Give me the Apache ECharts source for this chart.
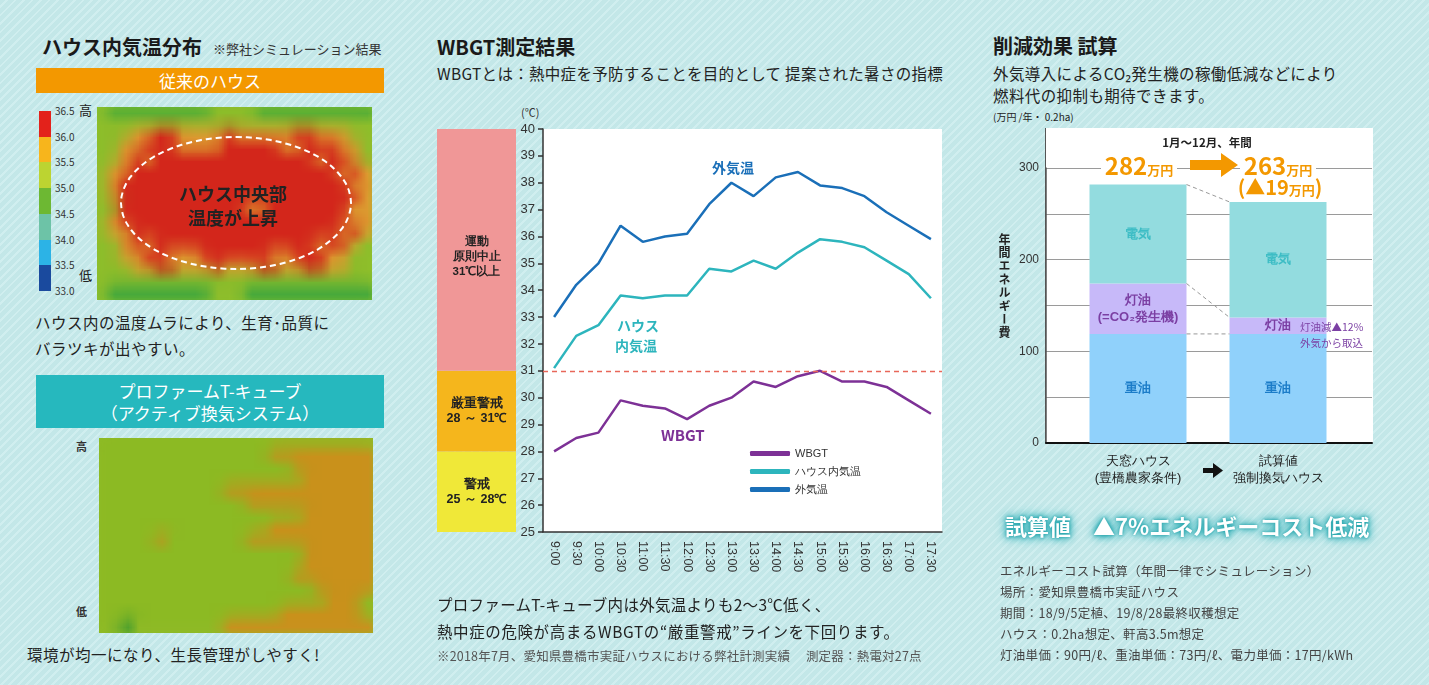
<!DOCTYPE html>
<html>
<head>
<meta charset="utf-8">
<script src="https://cdn.jsdelivr.net/npm/echarts@6/dist/echarts.min.js"></script>
<style>
html, body { margin: 0; padding: 0; }
body {
    width: 1429px; height: 685px; position: relative; overflow: hidden;
    font-family: "Noto Sans CJK JP", "Noto Sans", sans-serif; color: #222;
    background: repeating-linear-gradient(135deg, #c3e7e8 0px, #c3e7e8 4px, #d0eeef 4px, #d0eeef 6px);
}
.t { position: absolute; white-space: nowrap; line-height: 1; }
.b { font-weight: bold; }
.box { position: absolute; }
.heat { position: absolute; overflow: hidden; }
.heat .inner { position: absolute; width: 26px; height: 18px; transform-origin: 0 0; }
#main { position: absolute; left: 0; top: 0; width: 1429px; height: 685px; }
.glow { color: #fff; text-shadow: 0 0 3px #23a3ab, 0 0 6px #23a3ab, 0 0 10px #3cb6bd, 0 0 14px #6ccacf; }
.price { background: #fff; padding: 0 4px; color: #f39800; font-weight: bold; }
</style>
</head>
<body>

<!-- left panel -->
<div class="t b" style="left:42px;top:37px;font-size:20px;color:#1a1a1a;">ハウス内気温分布</div>
<div class="t" style="left:213px;top:42px;font-size:13px;color:#333;">※弊社シミュレーション結果</div>
<div class="box" style="left:36px;top:68px;width:348px;height:25px;background:#f39800;color:#fff;font-size:17px;line-height:25px;text-align:center;">従来のハウス</div>
<div id="scale"></div>
<div class="t" style="left:79px;top:103px;font-size:13px;">高</div>
<div class="t" style="left:79px;top:268px;font-size:13px;">低</div>
<div class="heat" style="left:97px;top:107px;width:275px;height:193px;"><div class="inner" id="heatA" style="background:#8fbf2c;"></div></div>
<div class="box" style="left:120px;top:136px;width:228px;height:130px;border:2px dashed #fff;border-radius:50%;"></div>
<div class="t b" style="left:133px;top:184px;width:200px;text-align:center;font-size:18px;color:#222;">ハウス中央部</div>
<div class="t b" style="left:133px;top:208px;width:200px;text-align:center;font-size:18px;color:#222;">温度が上昇</div>
<div class="t" style="left:35px;top:315px;font-size:15.5px;letter-spacing:0.5px;">ハウス内の温度ムラにより、生育･品質に</div>
<div class="t" style="left:35px;top:341px;font-size:15.5px;letter-spacing:0.5px;">バラツキが出やすい。</div>
<div class="box" style="left:36px;top:375px;width:348px;height:53px;background:#26b8be;color:#fff;font-size:17px;text-align:center;">
  <div style="position:absolute;left:0;right:0;top:6px;line-height:20px;">プロファームT-キューブ</div>
  <div style="position:absolute;left:0;right:0;top:28px;line-height:20px;">（アクティブ換気システム）</div>
</div>
<div class="t b" style="left:76px;top:441px;font-size:11px;color:#333;">高</div>
<div class="t b" style="left:76px;top:606px;font-size:11px;color:#333;">低</div>
<div class="heat" style="left:99px;top:438px;width:274px;height:195px;"><div class="inner" id="heatB" style="background:#8fbb27;"></div></div>
<div class="t" style="left:27px;top:647px;font-size:15.5px;letter-spacing:0.5px;">環境が均一になり、生長管理がしやすく!</div>

<!-- middle panel -->
<div class="t b" style="left:437px;top:37px;font-size:20px;color:#1a1a1a;">WBGT測定結果</div>
<div class="t" style="left:437px;top:66px;font-size:15.5px;letter-spacing:0.3px;">WBGTとは：熱中症を予防することを目的として 提案された暑さの指標</div>
<div class="t" style="left:521px;top:107px;font-size:11px;color:#333;">(℃)</div>

<!-- right panel -->
<div class="t b" style="left:993px;top:36px;font-size:20px;color:#1a1a1a;">削減効果 試算</div>
<div class="t" style="left:993px;top:66px;font-size:15.5px;letter-spacing:0.4px;">外気導入によるCO₂発生機の稼働低減などにより</div>
<div class="t" style="left:993px;top:88px;font-size:15.5px;letter-spacing:0.4px;">燃料代の抑制も期待できます。</div>
<div class="t" style="left:993px;top:112px;font-size:10px;">(万円 /年・ 0.2ha)</div>
<div class="box" style="left:1045px;top:128px;width:327px;height:315px;background:#fff;border-left:1.5px solid #555;"></div>

<div id="main"></div>

<!-- overlays -->
<div class="t b" style="left:712px;top:160px;font-size:14px;color:#1a6fb8;">外気温</div>
<div class="t b" style="left:617px;top:318px;font-size:14px;color:#2db5bd;">ハウス</div>
<div class="t b" style="left:615px;top:338px;font-size:14px;color:#2db5bd;">内気温</div>
<div class="t b" style="left:661px;top:427px;font-size:15px;color:#7d3196;">WBGT</div>
<div class="t" style="left:437px;top:597px;font-size:15.5px;letter-spacing:0.3px;">プロファームT-キューブ内は外気温よりも2～3℃低く、</div>
<div class="t" style="left:437px;top:624px;font-size:15.5px;letter-spacing:0.6px;">熱中症の危険が高まるWBGTの“厳重警戒”ラインを下回ります。</div>
<div class="t" style="left:437px;top:650px;font-size:12.5px;color:#555;letter-spacing:0.2px;">※2018年7月、愛知県豊橋市実証ハウスにおける弊社計測実績　 測定器：熱電対27点</div>

<div class="t b" style="left:1107px;top:137px;width:200px;text-align:center;font-size:11.5px;">1月～12月、年間</div>
<div class="t" id="totalA" style="left:1069px;top:153px;width:140px;text-align:center;"></div>
<div class="t" id="totalB" style="left:1208px;top:153px;width:140px;text-align:center;"></div>
<div class="t" id="diff" style="left:1210px;top:177px;width:140px;text-align:center;color:#f39800;font-weight:bold;"></div>
<div class="t b" style="left:997px;top:233px;font-size:12px;writing-mode:vertical-rl;letter-spacing:1.4px;line-height:14px;">年間エネルギー費</div>
<div class="t" style="left:1300px;top:322px;font-size:10.5px;color:#7b3fa3;">灯油減▲12%</div>
<div class="t" style="left:1300px;top:338px;font-size:10.5px;color:#7b3fa3;">外気から取込</div>

<div class="t b glow" style="left:1005px;top:514px;font-size:22px;">試算値　▲7%エネルギーコスト低減</div>
<div class="t" style="left:1000px;top:565px;font-size:12.5px;color:#444;letter-spacing:0.3px;">エネルギーコスト試算（年間一律でシミュレーション）</div>
<div class="t" style="left:1000px;top:586px;font-size:12.5px;color:#444;letter-spacing:0.3px;">場所：愛知県豊橋市実証ハウス</div>
<div class="t" style="left:1000px;top:607px;font-size:12.5px;color:#444;letter-spacing:0.3px;">期間：18/9/5定植、19/8/28最終収穫想定</div>
<div class="t" style="left:1000px;top:628px;font-size:12.5px;color:#444;letter-spacing:0.3px;">ハウス：0.2ha想定、軒高3.5m想定</div>
<div class="t" style="left:1000px;top:649px;font-size:12.5px;color:#444;letter-spacing:0.3px;">灯油単価：90円/ℓ、重油単価：73円/ℓ、電力単価：17円/kWh</div>

<script>
// WBGT 測定結果
var times = ['9:00', '9:30', '10:00', '10:30', '11:00', '11:30', '12:00', '12:30', '13:00',
    '13:30', '14:00', '14:30', '15:00', '15:30', '16:00', '16:30', '17:00', '17:30'];
var outsideTemp = [33.0, 34.2, 35.0, 36.4, 35.8, 36.0, 36.1, 37.2, 38.0, 37.5, 38.2, 38.4, 37.9, 37.8, 37.5, 36.9, 36.4, 35.9];
var houseTemp = [31.1, 32.3, 32.7, 33.8, 33.7, 33.8, 33.8, 34.8, 34.7, 35.1, 34.8, 35.4, 35.9, 35.8, 35.6, 35.1, 34.6, 33.7];
var wbgt = [28.0, 28.5, 28.7, 29.9, 29.7, 29.6, 29.2, 29.7, 30.0, 30.6, 30.4, 30.8, 31.0, 30.6, 30.6, 30.4, 29.9, 29.4];
var warnLine = 31;

// 警戒ゾーン (下から)
var zoneEdges = [25, 28, 31, 40];
var zoneLabels = ['警戒\n25 ～ 28℃', '厳重警戒\n28 ～ 31℃', '運動\n原則中止\n31℃以上'];
var zoneColors = ['#f0e838', '#f5b61c', '#f09797'];

// 削減効果 試算 (万円)
var costCats = ['天窓ハウス\n(豊橋農家条件)', '試算値\n強制換気ハウス'];
var heavyOil = [119, 119];
var kerosene = [55, 18];
var electric = [108, 126];

// ハウス内気温分布 (目視で読んだ色の段階: g=34.5-35.0 y=35.0-35.5 o=35.5-36.0 r=36.0-36.5)
var scaleTicks = ['36.5', '36.0', '35.5', '35.0', '34.5', '34.0', '33.5', '33.0'];
var scaleColors = ['#e3221b', '#f7b51c', '#bcd431', '#6db833', '#6dc3a7', '#2cb3e6', '#1a4a9e'];
var heatLevel = { g: 34.7, y: 35.2, o: 35.7, r: 36.2 };
var heatRowsA = [
    'ygggggggggyyyygggggggggg',
    'yyyyyyyyyyyyyyyyyyyyyyyy',
    'yyyoorroooorooooorroooyy',
    'yyoorrroooorrrrroorrrooy',
    'yyororrrrrrrrrrrrrrorroy',
    'yoorrrrrrrrrrrrrrrrrroro',
    'yorrrrrrrrrrrrrrrrrrrroo',
    'yorrrrrrrrrrrrrrrrrrrrro',
    'yyrrrrrrrrrrroorrrrrrroo',
    'yorrrrrrrrrrrrrrrrrrrroo',
    'yoorrrrrrrrrrrrrrrrrroro',
    'yyororrrrrrrrrrrrrrorroy',
    'yyoorrooorrrrrroorrrooyy',
    'yyyoorrooorooorroorrooyy',
    'yyyyyyyyyyyyyyyyyyyyyyyy',
    'ygggggggggyyyggggggggggg'
];
var heatRowsB = [
    'yyyyyyyyyyyyyyyyyyyyyyyy',
    'yyyyyyyyyyyyyyyooooooooo',
    'yyyyyyyyyyyyyyyyyooooooo',
    'yyyyyyyyyyyyyyyyyyoooooo',
    'yyyyyyyyyyyooooooooooooo',
    'yyyyyyyyyyyyyooooooooooo',
    'yyyyyyyyyyyyyyyyyyoooooo',
    'yyyyyyyyyyyyyyyooooooooo',
    'yyyyyoyyyyyyyooooooooooo',
    'yyyyyyyyyyyyyyyyyyoooooo',
    'yyyyyyyyyyyyyyyyyyoooooo',
    'yyyyyyyyyyyyyyyyyooooooo',
    'yyyyyyyyyyyyyyyyyyyooooo',
    'yyyyyyyyyyyyyyyyyyyyoooy',
    'yyyyyyyyyyyyyyyyoooooooy',
    'yygyyyyyyyyooooooooooooo'
];

// カラースケール
(function() {
    var html = '';
    var segH = 180 / scaleColors.length;
    for (var i = 0; i < scaleColors.length; i++) {
        html += '<div class="box" style="left:39px;top:' + (111 + i * segH) + 'px;width:12px;height:' + (segH + 0.5) + 'px;background:' + scaleColors[i] + ';"></div>';
    }
    for (var k = 0; k < scaleTicks.length; k++) {
        html += '<div class="t" style="left:55px;top:' + (106 + k * segH) + 'px;font-size:10px;color:#333;">' + scaleTicks[k] + '</div>';
    }
    document.getElementById('scale').innerHTML = html;
})();

// 1マス1pxで描いてから拡大し、ブラウザの補間でぼかす
function drawHeat(id, rows, colors, w, h) {
    var el = document.getElementById(id);
    var nCol = rows[0].length, nRow = rows.length;
    var sx = w / nCol, sy = h / nRow;
    el.style.width = (nCol + 2) + 'px';
    el.style.height = (nRow + 2) + 'px';
    el.style.left = (-sx) + 'px';
    el.style.top = (-sy) + 'px';
    el.style.transform = 'scale(' + sx + ',' + sy + ')';
    var chart = echarts.init(el);
    var xs = [], ys = [], data = [];
    for (var i = 0; i < nCol; i++) xs.push(String(i));
    for (var j = 0; j < nRow; j++) ys.push(String(j));
    rows.forEach(function(row, j) {
        for (var i = 0; i < row.length; i++) {
            data.push([i, nRow - 1 - j, heatLevel[row[i]]]);
        }
    });
    chart.setOption({
        animation: false,
        grid: { left: 1, right: 1, top: 1, bottom: 1 },
        xAxis: { type: 'category', data: xs, show: false },
        yAxis: { type: 'category', data: ys, show: false },
        visualMap: {
            type: 'piecewise', show: false,
            pieces: [
                { min: 34.5, max: 35.0, color: colors.g },
                { min: 35.0, max: 35.5, color: colors.y },
                { min: 35.5, max: 36.0, color: colors.o },
                { min: 36.0, max: 36.5, color: colors.r }
            ]
        },
        series: [{ type: 'heatmap', data: data, emphasis: { disabled: true }, itemStyle: { borderWidth: 0 } }]
    });
}
drawHeat('heatA', heatRowsA, { g: '#45a93c', y: '#8fbf2c', o: '#dc9b30', r: '#d3281f' }, 275, 193);
drawHeat('heatB', heatRowsB, { g: '#3f9a30', y: '#8fbb27', o: '#c9911f', r: '#c9911f' }, 274, 195);

// 合計
function total(i) { return heavyOil[i] + kerosene[i] + electric[i]; }
var totalA = total(0), totalB = total(1);
document.getElementById('totalA').innerHTML = '<span class="price"><span style="font-size:24px;">' + totalA + '</span><span style="font-size:13px;">万円</span></span>';
document.getElementById('totalB').innerHTML = '<span class="price"><span style="font-size:24px;">' + totalB + '</span><span style="font-size:13px;">万円</span></span>';
document.getElementById('diff').innerHTML = '<span style="font-size:20px;">(▲' + (totalA - totalB) + '</span><span style="font-size:13px;">万円</span><span style="font-size:20px;">)</span>';

var myChart = echarts.init(document.getElementById('main'));
var zoneSeries = zoneColors.map(function(c, i) {
    return {
        name: 'zone' + i, type: 'bar', stack: 'zone', xAxisIndex: 1, yAxisIndex: 1,
        barWidth: '100%', silent: true,
        data: [i === 0 ? zoneEdges[1] : zoneEdges[i + 1] - zoneEdges[i]],
        itemStyle: { color: c },
        label: {
            show: true, position: 'inside', formatter: zoneLabels[i],
            color: '#222', fontWeight: 'bold', fontSize: i === 2 ? 11.5 : 12.5, lineHeight: 15,
            offset: [0, i === 2 ? 7 : 0]
        }
    };
});

function costLabel(color, texts) {
    return {
        show: true, position: 'inside', color: color, fontWeight: 'bold', fontSize: 13, lineHeight: 17,
        formatter: function(p) { return texts[p.dataIndex]; }
    };
}

var redDash = { type: [5, 4], color: '#e8675a', width: 1.3 };

var option = {
    animation: false,
    grid: [
        { left: 543, top: 129, width: 399, height: 403, show: true, backgroundColor: '#fff', borderWidth: 0 },
        { left: 437, top: 129, width: 79, height: 403 },
        { left: 1046, top: 168, width: 326, height: 275 },
        { left: 1068, top: 168, width: 280, height: 275 }
    ],
    legend: {
        data: ['WBGT', 'ハウス内気温', '外気温'],
        orient: 'vertical', left: 745, top: 443, itemWidth: 40, itemHeight: 5, itemGap: 7,
        icon: 'roundRect', textStyle: { fontSize: 11, color: '#333' }
    },
    xAxis: [
        {
            type: 'category', data: times, gridIndex: 0, boundaryGap: true,
            axisLine: { lineStyle: { color: '#333', width: 1.5 } },
            axisTick: { alignWithLabel: true, inside: true, length: 9, lineStyle: { color: '#333', width: 1.5 } },
            axisLabel: { rotate: -90, fontSize: 12.5, color: '#333', margin: 9 }
        },
        { type: 'category', data: [''], gridIndex: 1, show: false },
        {
            type: 'category', data: [''], gridIndex: 2,
            axisLine: { lineStyle: { color: '#111', width: 2 } }, axisTick: { show: false }, axisLabel: { show: false }
        },
        {
            type: 'category', data: costCats, gridIndex: 3,
            axisLine: { show: false }, axisTick: { show: false },
            axisLabel: { fontSize: 13, color: '#222', lineHeight: 17, margin: 10 }
        }
    ],
    yAxis: [
        {
            type: 'value', gridIndex: 0, min: 25, max: 40, interval: 1,
            axisLine: { show: true, lineStyle: { color: '#333', width: 1.5 } },
            axisTick: { show: true, length: 5, lineStyle: { color: '#333', width: 1.5 } },
            axisLabel: { fontSize: 13, color: '#333', margin: 8 },
            splitLine: { show: false }
        },
        { type: 'value', gridIndex: 1, min: 25, max: 40, show: false },
        {
            type: 'value', gridIndex: 2, min: 0, max: 300, interval: 50,
            axisLine: { show: true, lineStyle: { color: '#555', width: 1.5 } },
            axisTick: { show: false },
            axisLabel: {
                fontSize: 12, color: '#333', margin: 7,
                formatter: function(v) { return v % 100 === 0 ? v : ''; }
            },
            splitLine: { lineStyle: { color: '#9a9a9a', width: 1 } }
        },
        { type: 'value', gridIndex: 3, min: 0, max: 300, show: false }
    ],
    series: zoneSeries.concat([
        {
            name: '外気温', type: 'line', data: outsideTemp, showSymbol: false,
            lineStyle: { width: 2.5, color: '#1a6fb8' }, itemStyle: { color: '#1a6fb8' }
        },
        {
            name: 'ハウス内気温', type: 'line', data: houseTemp, showSymbol: false,
            lineStyle: { width: 2.5, color: '#2db5bd' }, itemStyle: { color: '#2db5bd' }
        },
        {
            name: 'WBGT', type: 'line', data: wbgt, showSymbol: false, z: 1,
            lineStyle: { width: 2.5, color: '#7d3196' }, itemStyle: { color: '#7d3196' },
            markLine: {
                silent: true, symbol: 'none', label: { show: false },
                lineStyle: redDash,
                emphasis: { disabled: true },
                data: [{ yAxis: warnLine, lineStyle: redDash }]
            }
        },
        {
            name: '重油', type: 'bar', stack: 'cost', xAxisIndex: 3, yAxisIndex: 3, barWidth: 97,
            data: heavyOil, itemStyle: { color: '#90d1fb' }, label: costLabel('#1b7cc8', ['重油', '重油'])
        },
        {
            name: '灯油', type: 'bar', stack: 'cost', xAxisIndex: 3, yAxisIndex: 3, barWidth: 97,
            data: kerosene, itemStyle: { color: '#c7b9f9' }, label: costLabel('#7b3fa3', ['灯油\n(=CO₂発生機)', '灯油'])
        },
        {
            name: '電気', type: 'bar', stack: 'cost', xAxisIndex: 3, yAxisIndex: 3, barWidth: 97,
            data: electric, itemStyle: { color: '#93dcdf' }, label: costLabel('#3dbdc5', ['電気', '電気'])
        }
    ])
};
myChart.setOption(option);

// 棒をつなぐ破線と矢印
(function() {
    var half = 48.5;
    function px(ci, v) { return myChart.convertToPixel({ xAxisIndex: 3, yAxisIndex: 3 }, [ci, v]); }
    var levels = [
        [heavyOil[0], heavyOil[1]],
        [heavyOil[0] + kerosene[0], heavyOil[1] + kerosene[1]],
        [totalA, totalB]
    ];
    var els = levels.map(function(l) {
        var a = px(0, l[0]), b = px(1, l[1]);
        return {
            type: 'line', z: 100,
            shape: { x1: a[0] + half, y1: a[1], x2: b[0] - half, y2: b[1] },
            style: { stroke: '#999', lineWidth: 1, lineDash: [4, 3] }
        };
    });
    els.push({
        type: 'polygon', z: 100,
        shape: { points: [[1190, 160], [1221, 160], [1221, 153], [1238, 165], [1221, 177], [1221, 170], [1190, 170]] },
        style: { fill: '#f39800' }
    });
    els.push({
        type: 'polygon', z: 100,
        shape: { points: [[1203, 468], [1213, 468], [1213, 463], [1223, 470.5], [1213, 478], [1213, 473], [1203, 473]] },
        style: { fill: '#111' }
    });
    myChart.setOption({ graphic: els });
})();
</script>
</body>
</html>
